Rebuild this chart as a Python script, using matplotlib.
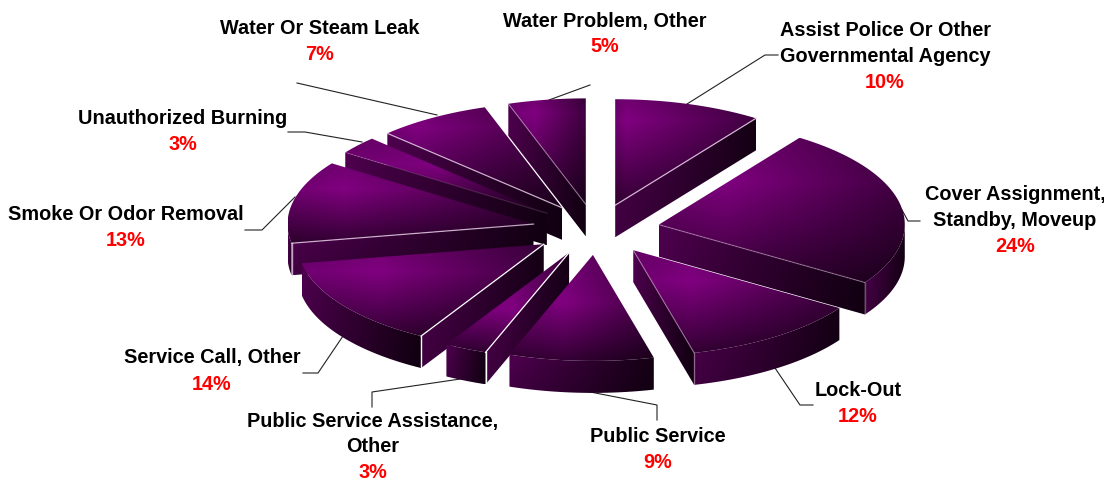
import numpy as np
import matplotlib
matplotlib.use("Agg")
import matplotlib.pyplot as plt
from matplotlib.patches import Polygon

categories = ["Assist Police Or Other\nGovernmental Agency", "Cover Assignment,\nStandby, Moveup",
              "Lock-Out", "Public Service", "Public Service Assistance,\nOther", "Service Call, Other",
              "Smoke Or Odor Removal", "Unauthorized Burning", "Water Or Steam Leak", "Water Problem, Other"]
shares = [9.7, 24.49, 11.83, 9.49, 2.8, 13.8, 12.6, 2.7, 7.49, 5.1]

# layout (pixels), separate from the data
CX, CY, RX, RY, DEPTH, EXPLODE_X, EXPLODE_Y = 596, 229.5, 246, 106, 32, 0.26, 0.24
label_xy = [(885, 30), (1015, 194), (858, 391), (658, 436), (373, 421),
            (212, 358), (126, 215), (183, 119), (320, 28), (605, 21)]
elbows = [[(765, 55), (778, 55)], [(908, 221), (920, 221)], [(800, 405), (813, 405)],
          [(657, 405), (657, 420)], [(372, 392), (372, 407)], [(318, 373), (303, 373)],
          [(262, 230), (245, 230)], [(305, 132), (288, 132)], [(297, 83)], [(590, 85)]]
anchors = [(687, 104), (902, 210), (775, 368), (580, 390), (467, 378),
           (343, 336), (295, 197), (362, 142), (437, 115), (549, 100)]
edge_strength = [0.85, 0.35, 0.4, 0, 1, 1, 0.8, 0.15, 0.8, 0.4]
shade_peak = [(.08, .2), (.27, .3), (.28, .3), (.38, .45), (.54, .58),
              (.32, .3), (.23, .32), (.45, .35), (.17, .2), (.34, .14)]

fig = plt.figure(figsize=(11.04, 4.83), dpi=100, facecolor="white")
ax = fig.add_axes([0, 0, 1, 1])
ax.set_axis_off()


def make_top_shade(u0, v0):
    def top_shade(u, v):
        gu = np.where(u > u0, 1 - 0.5 * (u - u0) / (1 - u0), 1 - 0.12 * (u0 - u) / u0)
        gv = np.where(v > v0, 1 - 0.6 * (v - v0) / (1 - v0), 1 - 0.12 * (v0 - v) / v0)
        return gu * gv
    return top_shade


def wall_shade(u, v):
    return (0.62 - 0.46 * u) * (1 - 0.2 * v)


def fill(points, shade, z):
    pts = np.asarray(points)
    x0, y0 = pts.min(axis=0)
    x1, y1 = pts.max(axis=0)
    w, h = max(int(x1 - x0), 2), max(int(y1 - y0), 2)
    u, v = np.meshgrid(np.linspace(0, 1, w), np.linspace(0, 1, h))
    b = shade(u, v)
    img = np.dstack([b * 128 / 255, b * 0, b * 128 / 255])
    im = ax.imshow(img, extent=(x0, x1, y1, y0), aspect="auto", zorder=z, interpolation="bilinear")
    im.set_clip_path(Polygon(pts, closed=True, transform=ax.transData))


cum = np.concatenate([[0], np.cumsum(shares)])
angles = np.radians(cum * 360 / cum[-1])
mids = (angles[:-1] + angles[1:]) / 2
order = np.argsort(-np.cos(mids))

z = 2
for i in order:
    a1, a2, m = angles[i], angles[i + 1], mids[i]
    ax_, ay_ = CX + EXPLODE_X * RX * np.sin(m), CY - EXPLODE_Y * RY * np.cos(m)
    t = np.linspace(a1, a2, 80)
    arc = np.column_stack([ax_ + RX * np.sin(t), ay_ - RY * np.cos(t)])
    apex = np.array([ax_, ay_])
    down = np.array([0, DEPTH])
    strength = edge_strength[i]
    edge_col = (1, 1, 1, strength) if strength >= 1 else (0.9, 0.8, 0.9, strength)

    # outer curved wall
    lo, hi = max(a1, np.pi / 2), min(a2, 3 * np.pi / 2)
    if lo < hi:
        s = np.linspace(lo, hi, 60)
        c = np.column_stack([ax_ + RX * np.sin(s), ay_ - RY * np.cos(s)])
        fill(np.vstack([c, (c + down)[::-1]]), wall_shade, z)
        z += 1
    # radial walls facing the viewer
    lines = []
    if np.sin(a2) > 0:
        lines.append(arc[-1])
    if np.sin(a1) < 0:
        lines.append(arc[0])
    for p in lines:
        fill([apex, p, p + down, apex + down], wall_shade, z)
        z += 1
    fill(np.vstack([[apex], arc]), make_top_shade(*shade_peak[i]), z)
    z += 1
    for p in lines:
        ax.plot([apex[0], p[0]], [apex[1], p[1]], color=edge_col, lw=0.9, zorder=z)
        if lo < hi:
            ax.plot([p[0], p[0]], [p[1], p[1] + DEPTH], color=edge_col, lw=1.0, zorder=z)
    z += 1

for i, cat in enumerate(categories):
    path = np.array([anchors[i]] + elbows[i])
    ax.plot(path[:, 0], path[:, 1], color="#222222", lw=0.8, zorder=1)
    x, y = label_xy[i]
    rows = cat.split("\n")
    for k, row in enumerate(rows):
        ax.text(x, y + 26 * k, row, ha="center", va="center", family="Liberation Sans",
                weight="bold", fontsize=14.3, color="black", zorder=500)
    ax.text(x, y + 26 * len(rows), f"{round(shares[i])}%", ha="center", va="center",
            family="Liberation Sans", weight="bold", fontsize=14.3, color="#ff0000", zorder=500)

ax.set_xlim(0, 1104)
ax.set_ylim(483, 0)
fig.savefig("out.png", dpi=100, facecolor="white")
